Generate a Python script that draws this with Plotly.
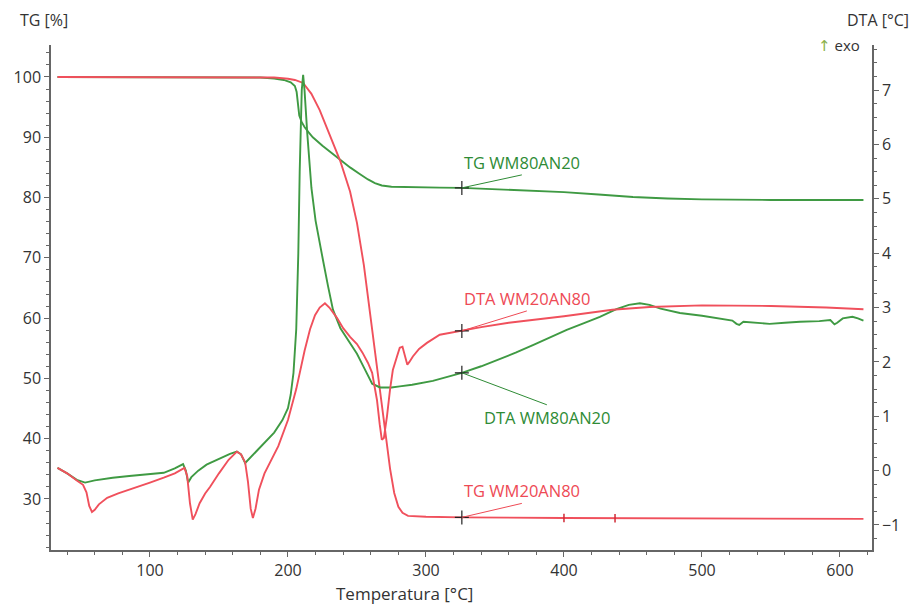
import numpy as np
import plotly.graph_objects as go

# ---------------- data ----------------
# TG WM80AN20 (green, left axis, %)
tg_g_T = [33, 100, 150, 180, 190, 197, 202, 205, 206.3, 207.2, 208.2, 210, 212, 215, 218, 225, 232, 238, 245, 252, 258,
          263, 268, 275, 290, 310, 326, 350, 375, 400, 425, 450, 475, 500, 550, 617]
tg_g_v = [100.0, 100.0, 100.0, 99.9, 99.75, 99.5, 99.1, 98.5, 97.5, 95.5, 93.6, 92.5, 91.7, 90.8, 90.0, 88.6, 87.3, 86.2,
          85.0, 83.9, 83.0, 82.4, 82.0, 81.8, 81.7, 81.65, 81.6, 81.4, 81.2, 80.9, 80.5, 80.1, 79.85, 79.7, 79.6, 79.6]

# TG WM20AN80 (red, left axis, %)
tg_r_T = [33, 150, 190, 200, 205, 211, 217, 223, 230, 238, 245, 250, 255, 260, 265, 270, 274, 277, 280, 283, 287, 300,
          326, 400, 500, 617]
tg_r_v = [100.0, 100.0, 99.9, 99.7, 99.5, 99.0, 97.2, 94.5, 90.5, 86.0, 81.0, 75.8, 68.8, 60.0, 50.5, 41.5, 35.0, 31.0,
          28.7, 27.7, 27.2, 27.05, 26.95, 26.85, 26.75, 26.7]

# DTA WM80AN20 (green, right axis, °C)
dta_g_T = [33, 40, 47, 53, 60, 73, 85, 100, 110, 118, 124, 126, 127.7, 130, 135, 141, 150, 158, 163, 166, 169, 172, 177,
           182, 190, 196, 200, 202, 204, 206, 207.5, 208.5, 210, 211, 212, 214, 217, 220, 223, 225.4, 229, 232.6, 238,
           245, 250, 255, 261, 266.7, 275, 281, 290, 305, 326, 340, 353.6, 365, 377.5, 390, 402, 415, 426, 438, 447,
           455, 462, 470, 484, 500, 513, 522, 525, 527, 530, 540, 549, 560, 571, 585, 593, 596, 598, 602, 609, 613, 617]
dta_g_v = [0.05, -0.05, -0.17, -0.22, -0.18, -0.13, -0.1, -0.07, -0.04, 0.04, 0.12, 0.0, -0.22, -0.12, 0.0, 0.11, 0.22,
           0.31, 0.35, 0.3, 0.14, 0.22, 0.35, 0.47, 0.7, 0.93, 1.15, 1.4, 1.8, 2.6, 4.0, 5.5, 7.0, 7.28, 7.0, 6.2, 5.2,
           4.6, 4.15, 3.87, 3.4, 2.96, 2.62, 2.35, 2.15, 1.9, 1.6, 1.53, 1.53, 1.55, 1.58, 1.65, 1.8, 1.92, 2.05, 2.17,
           2.31, 2.45, 2.59, 2.72, 2.83, 2.97, 3.05, 3.08, 3.05, 2.98, 2.9, 2.85, 2.8, 2.76, 2.7, 2.68, 2.74, 2.72, 2.7,
           2.72, 2.74, 2.75, 2.77, 2.69, 2.72, 2.8, 2.83, 2.8, 2.76]

# DTA WM20AN80 (red, right axis, °C)
dta_r_T = [33, 40, 47, 51.5, 54, 56, 58, 60, 63, 69, 77, 85.5, 100, 110, 118, 125, 127, 129, 131, 133, 136, 140, 143.5,
           150, 157, 163, 166, 169, 171, 173, 174.6, 176.5, 179, 183, 187, 193, 200, 206, 212, 216, 219.6, 223, 226.8,
           230, 235.5, 240, 245, 250, 254, 258, 261, 264.5, 266.5, 268, 269.5, 271.7, 274, 276, 279, 281, 283, 285,
           286.5, 288, 290.5, 295, 300.7, 310, 318, 326, 340, 360, 377.5, 400, 435, 462, 500, 550, 590, 617]
dta_r_v = [0.05, -0.05, -0.18, -0.26, -0.4, -0.65, -0.76, -0.72, -0.62, -0.5, -0.42, -0.35, -0.22, -0.13, -0.05, 0.05,
           -0.1, -0.6, -0.9, -0.8, -0.6, -0.42, -0.3, -0.05, 0.2, 0.35, 0.3, 0.15, -0.2, -0.7, -0.87, -0.7, -0.35, -0.05,
           0.14, 0.45, 0.93, 1.5, 2.2, 2.6, 2.86, 3.0, 3.08, 3.0, 2.81, 2.62, 2.46, 2.33, 2.17, 1.98, 1.8, 1.3, 0.85,
           0.57, 0.6, 0.99, 1.5, 1.85, 2.1, 2.26, 2.28, 2.08, 1.95, 2.0, 2.1, 2.24, 2.35, 2.5, 2.54, 2.57, 2.64, 2.72,
           2.77, 2.84, 2.96, 3.01, 3.04, 3.03, 3.0, 2.97]

label_T = 326            # temperature where the curve labels are pinned
red_marks_T = [400, 437]  # small tick marks on TG WM20AN80

GREEN = "#3f9a43"
RED = "#f0505c"
GREEN_TXT = "#2e8b35"
RED_TXT = "#ee4a55"
AX = "#666666"
TXT = "#333333"
FONT = "Open Sans"

fig = go.Figure()
fig.add_trace(go.Scatter(x=tg_g_T, y=tg_g_v, mode="lines", line=dict(color=GREEN, width=1.9), yaxis="y"))
fig.add_trace(go.Scatter(x=tg_r_T, y=tg_r_v, mode="lines", line=dict(color=RED, width=1.9), yaxis="y"))
fig.add_trace(go.Scatter(x=dta_g_T, y=dta_g_v, mode="lines", line=dict(color=GREEN, width=1.9), yaxis="y2"))
fig.add_trace(go.Scatter(x=dta_r_T, y=dta_r_v, mode="lines", line=dict(color=RED, width=1.9), yaxis="y2"))

# small red tick marks on red TG
fig.add_trace(go.Scatter(x=red_marks_T, y=list(np.interp(red_marks_T, tg_r_T, tg_r_v)), mode="markers",
                         marker=dict(symbol="line-ns", size=6, line=dict(color="#d02a35", width=1.5)), yaxis="y"))

# crosshair markers and labels
labels = [
    ("TG WM80AN20", tg_g_T, tg_g_v, "y", GREEN_TXT, 60, -13, "bottom"),
    ("TG WM20AN80", tg_r_T, tg_r_v, "y", RED_TXT, 60, -14, "bottom"),
    ("DTA WM20AN80", dta_r_T, dta_r_v, "y2", RED_TXT, 65, -20, "bottom"),
    ("DTA WM80AN20", dta_g_T, dta_g_v, "y2", GREEN_TXT, 85, 32, "top"),
]
for text, xs, ys, yax, col, ax, ay, yanc in labels:
    yv = float(np.interp(label_T, xs, ys))
    fig.add_trace(go.Scatter(x=[label_T], y=[yv], mode="markers", yaxis=yax,
                             marker=dict(symbol="cross-thin", size=10, line=dict(color="#222222", width=1.2))))
    fig.add_annotation(x=label_T, y=yv, xref="x", yref=yax, text=text, showarrow=True, arrowhead=0,
                       arrowwidth=1, arrowcolor=col, ax=ax, ay=ay, xanchor="center", yanchor=yanc,
                       font=dict(family=FONT, size=16.5, color=col), borderpad=0)

axis_common = dict(showline=True, linecolor=AX, linewidth=1.5, showgrid=False, zeroline=False,
                   ticks="outside", ticklen=5, tickcolor=AX, tickwidth=1.2,
                   tickfont=dict(family=FONT, size=16, color=TXT))

fig.update_layout(
    width=916, height=606,
    margin=dict(l=51, r=44, t=45, b=56),
    paper_bgcolor="white", plot_bgcolor="white",
    showlegend=False,
    xaxis=dict(range=[28.3, 623.2], tick0=0, dtick=100, **axis_common,
               minor=dict(dtick=20, ticklen=3, ticks="outside", tickcolor=AX)),
    yaxis=dict(range=[21.54, 105.3], tick0=0, dtick=10, **axis_common,
               minor=dict(dtick=2, ticklen=3, ticks="outside", tickcolor=AX)),
    yaxis2=dict(range=[-1.46, 7.83], tick0=0, dtick=1, overlaying="y", side="right", **axis_common,
                minor=dict(dtick=0.25, ticklen=3, ticks="outside", tickcolor=AX)),
)

fig.add_annotation(xref="paper", yref="paper", x=0.431, y=-0.086, text="Temperatura [°C]", showarrow=False,
                   xanchor="center", yanchor="middle", font=dict(family=FONT, size=17, color=TXT))
fig.add_annotation(xref="paper", yref="paper", x=-0.008, y=1.05, text="TG [%]", showarrow=False,
                   xanchor="center", yanchor="middle", font=dict(family=FONT, size=16, color=TXT))
fig.add_annotation(xref="paper", yref="paper", x=1.047, y=1.05, text="DTA [°C]", showarrow=False,
                   xanchor="right", yanchor="middle", font=dict(family=FONT, size=16, color=TXT))
fig.add_annotation(xref="paper", yref="paper", x=0.988, y=1.0,
                   text="<span style='color:#8ab04a;font-family:DejaVu Sans'>↑</span> exo",
                   showarrow=False, xanchor="right", yanchor="middle", font=dict(family=FONT, size=15, color=TXT))

fig.write_html("out.html", config={"displayModeBar": False},
               post_script="document.body.style.margin='0';document.body.style.overflow='hidden';")
